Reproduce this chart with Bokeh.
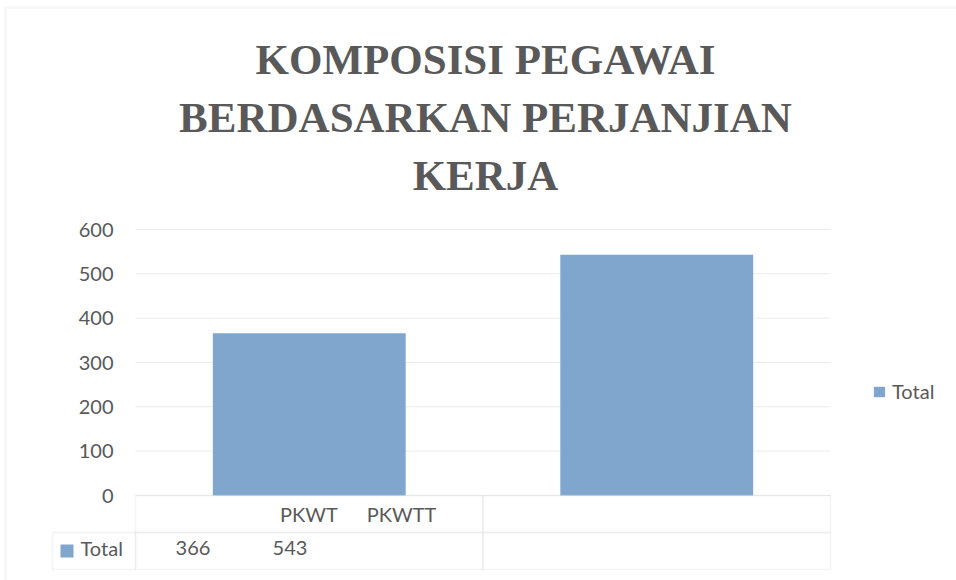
from bokeh.plotting import figure
from bokeh.models import (Range1d, Label, BoxAnnotation, Legend,
                          LegendItem, ColumnDataSource)
from bokeh.core.properties import value
from bokeh.embed import file_html
from bokeh.resources import INLINE

# ---- data ----
title_lines = ["KOMPOSISI PEGAWAI", "BERDASARKAN PERJANJIAN", "KERJA"]
categories = ["PKWT", "PKWTT"]
values = [366, 543]
series_name = "Total"
y_ticks = [0, 100, 200, 300, 400, 500, 600]
y_tick_labels = ["0", "100", "200", "300", "400", "500", "600"]

TXT = "#595959"
BAR = "#80A6CE"
LINE = "#D9D9D9"
FONT = "Lato"

W, H = 956, 580
# plot area in canvas pixels: x 135..830, y 229 (600) .. 495 (0)
PX_L, PX_R, PY_T, PY_B = 135, 830, 229, 495
n = len(categories)
xpp = n / (PX_R - PX_L)              # data units per pixel (x)
ypp = y_ticks[-1] / (PY_B - PY_T)    # data units per pixel (y)

p = figure(width=W, height=H, output_backend="svg", toolbar_location=None,
           title=None, x_axis_location=None, y_axis_location=None,
           x_range=Range1d(-PX_L * xpp, (W - PX_L) * xpp),
           y_range=Range1d(-(H - PY_B) * ypp, PY_B * ypp),
           min_border=0)
p.outline_line_color = None
p.background_fill_color = "white"
p.border_fill_color = "white"
p.grid.visible = False

# gridlines from the tick values
p.segment(x0=[0] * len(y_ticks), x1=[n] * len(y_ticks), y0=y_ticks, y1=y_ticks,
          line_color="#EBEBEB", line_width=1)

# y tick labels
p.text(x=[-22 * xpp] * len(y_ticks), y=y_ticks, text=y_tick_labels,
       text_align="right", text_baseline="middle", text_font=value(FONT),
       text_font_size="20px", text_color=TXT)

# bars
xs = [i + 0.5 for i in range(n)]
src = ColumnDataSource(dict(x=xs, top=values, cat=categories))
bars = p.vbar(x="x", top="top", width=0.555, source=src,
              fill_color=BAR, line_color=None)

# ---- outer chart border (left / top) ----
p.add_layout(BoxAnnotation(left=(5 - PX_L) * xpp, right=5, top=(PY_B - 7) * ypp,
                           bottom=-1000, fill_alpha=0, line_color="#E3E3E3",
                           line_width=3))

# ---- title ----
title_mid_px = [59, 117, 175]
for t, py in zip(title_lines, title_mid_px):
    p.add_layout(Label(x=(485 - PX_L) * xpp, y=(PY_B - py) * ypp, text=t,
                       text_align="center", text_baseline="middle",
                       text_font="Liberation Serif", text_font_style="bold",
                       text_font_size="43px", text_color=TXT))

# ---- data table below the plot ----
row1 = -(532 - PY_B) * ypp
row2 = -(569 - PY_B) * ypp
lab_left = (52 - PX_L) * xpp
cells = [(0, 1, 0, row1), (1, 2, 0, row1),
         (lab_left, 0, row1, row2), (0, 1, row1, row2), (1, 2, row1, row2)]
for l, r, t, b in cells:
    p.add_layout(BoxAnnotation(left=l, right=r, top=t, bottom=b, fill_alpha=0,
                               line_color=LINE, line_width=1.5))

hdr_px = [308.5, 401]
val_px = [192.5, 289.5]
for c, hx in zip(categories, hdr_px):
    p.add_layout(Label(x=(hx - PX_L) * xpp, y=-(513 - PY_B) * ypp, text=c,
                       text_align="center", text_baseline="middle",
                       text_font=FONT, text_font_size="20px", text_color=TXT))
for v, vx in zip(values, val_px):
    p.add_layout(Label(x=(vx - PX_L) * xpp, y=-(547 - PY_B) * ypp, text=str(v),
                       text_align="center", text_baseline="middle",
                       text_font=FONT, text_font_size="20px", text_color=TXT))
p.add_layout(BoxAnnotation(left=(60 - PX_L) * xpp, right=(73 - PX_L) * xpp,
                           top=-(544 - PY_B) * ypp, bottom=-(557 - PY_B) * ypp,
                           fill_color=BAR, fill_alpha=1, line_color=None))
p.add_layout(Label(x=(80 - PX_L) * xpp, y=-(547 - PY_B) * ypp, text=series_name,
                   text_align="left", text_baseline="middle", text_font=FONT,
                   text_font_size="20px", text_color=TXT))

# ---- legend ----
legend = Legend(items=[LegendItem(label=series_name, renderers=[bars])],
                location=(872, H - 403), glyph_width=14, glyph_height=13,
                label_standoff=6, padding=0, margin=0, spacing=0,
                border_line_color=None, background_fill_alpha=0,
                label_text_font=FONT, label_text_font_size="20px",
                label_text_color=TXT)
p.add_layout(legend)

open("out.html", "w").write(file_html(p, INLINE))
